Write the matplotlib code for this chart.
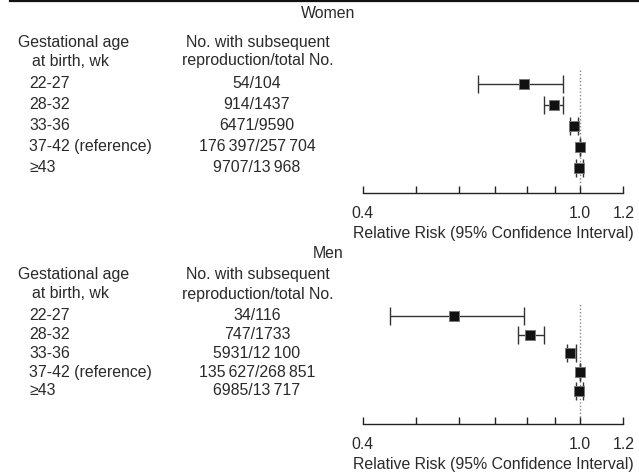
import matplotlib
matplotlib.use("Agg")
import matplotlib.pyplot as plt
from matplotlib.lines import Line2D
from matplotlib.ticker import FixedLocator, NullFormatter, FixedFormatter
from matplotlib.transforms import blended_transform_factory

plt.rcParams['font.family'] = ['Liberation Sans', 'DejaVu Sans']

# data
age_groups = ["22-27", "28-32", "33-36", "37-42 (reference)", "\u226543"]

women_counts = ["54/104", "914/1437", "6471/9590",
                "176\u2009397/257\u2009704", "9707/13\u2009968"]
women_rr = [0.788, 0.895, 0.974, 1.0, 0.995]
women_lo = [0.649, 0.858, 0.960, 1.0, 0.983]
women_hi = [0.930, 0.930, 0.990, 1.0, 1.013]

men_counts = ["34/116", "747/1733", "5931/12\u2009100",
              "135\u2009627/268\u2009851", "6985/13\u2009717"]
men_rr = [0.589, 0.809, 0.958, 1.0, 0.995]
men_lo = [0.449, 0.770, 0.947, 1.0, 0.983]
men_hi = [0.788, 0.860, 0.983, 1.0, 1.013]

ticks = [0.4, 0.5, 0.6, 0.7, 0.8, 0.9, 1.0, 1.2]
tick_labels = ["0.4", "", "", "", "", "", "1.0", "1.2"]

W, H = 639, 472
TXT = "#2a2a2a"
FS = 11.4

fig = plt.figure(figsize=(W / 100, H / 100), dpi=100)

# thin rule at the very top
fig.add_artist(Line2D([10 / W, 1], [1 - 1.2 / H, 1 - 1.2 / H],
                      transform=fig.transFigure, color="#111111", lw=1.6))


def fx(px):
    return px / W


def fy(py):
    return 1 - py / H


def panel(title, counts, rr, lo, hi, top_px, spine_px, row0_px, step_px, title_px, head_px):
    n = len(rr)
    left, right = 362.7, 623.3
    ax = fig.add_axes([fx(left), fy(spine_px), (right - left) / W, (spine_px - top_px) / H])
    ax.set_xscale("log")
    ax.set_xlim(0.4, 1.2)
    y_top = (top_px - row0_px) / step_px
    y_bot = (spine_px - row0_px) / step_px
    ax.set_ylim(y_bot, y_top)
    for s in ["top", "right", "left"]:
        ax.spines[s].set_visible(False)
    ax.spines["bottom"].set_color("#222222")
    ax.spines["bottom"].set_linewidth(1.0)
    ax.set_yticks([])
    ax.xaxis.set_major_locator(FixedLocator(ticks))
    ax.xaxis.set_major_formatter(FixedFormatter(tick_labels))
    ax.xaxis.set_minor_locator(FixedLocator([]))
    ax.xaxis.set_minor_formatter(NullFormatter())
    ax.tick_params(axis="x", direction="in", length=5, width=1.0, color="#222222",
                   labelsize=FS, labelcolor=TXT, pad=9.5)
    ax.set_xlabel("Relative Risk (95% Confidence Interval)", fontsize=FS, color=TXT, labelpad=3.5)

    ax.axvline(1.0, color="#888888", ls=(0, (1, 1.5)), lw=1.0, zorder=1)

    ys = list(range(n))
    xerr = [[r - l for r, l in zip(rr, lo)], [h - r for r, h in zip(rr, hi)]]
    ax.errorbar(rr, ys, xerr=xerr, fmt="none", ecolor="#333333", elinewidth=1.0,
                capsize=6.5, capthick=1.0, zorder=2)
    ax.plot(rr, ys, ls="none", marker="s", ms=6.6, mfc="#111111", mec="#777777",
            mew=0.7, zorder=3)

    tr = blended_transform_factory(fig.transFigure, ax.transData)
    for i in range(n):
        ax.text(fx(29), i, age_groups[i], transform=tr, ha="left", va="center",
                fontsize=FS, color=TXT, clip_on=False)
        ax.text(fx(257), i, counts[i], transform=tr, ha="center", va="center",
                fontsize=FS, color=TXT, clip_on=False)

    fig.text(fx(328), fy(title_px), title, ha="center", va="center", fontsize=FS, color=TXT)
    fig.text(fx(18), fy(head_px[0]), "Gestational age", ha="left", va="center",
             fontsize=FS, color=TXT)
    fig.text(fx(32), fy(head_px[1]), "at birth, wk", ha="left", va="center",
             fontsize=FS, color=TXT)
    fig.text(fx(258), fy(head_px[0]), "No. with subsequent", ha="center", va="center",
             fontsize=FS, color=TXT)
    fig.text(fx(258), fy(head_px[1]), "reproduction/total No.", ha="center", va="center",
             fontsize=FS, color=TXT)
    return ax


panel("Women", women_counts, women_rr, women_lo, women_hi,
      top_px=70, spine_px=193, row0_px=83.5, step_px=21.0, title_px=14, head_px=(42, 61))
panel("Men", men_counts, men_rr, men_lo, men_hi,
      top_px=303, spine_px=424, row0_px=315.7, step_px=18.8, title_px=254, head_px=(275, 294))

fig.savefig("out.png", dpi=100)
